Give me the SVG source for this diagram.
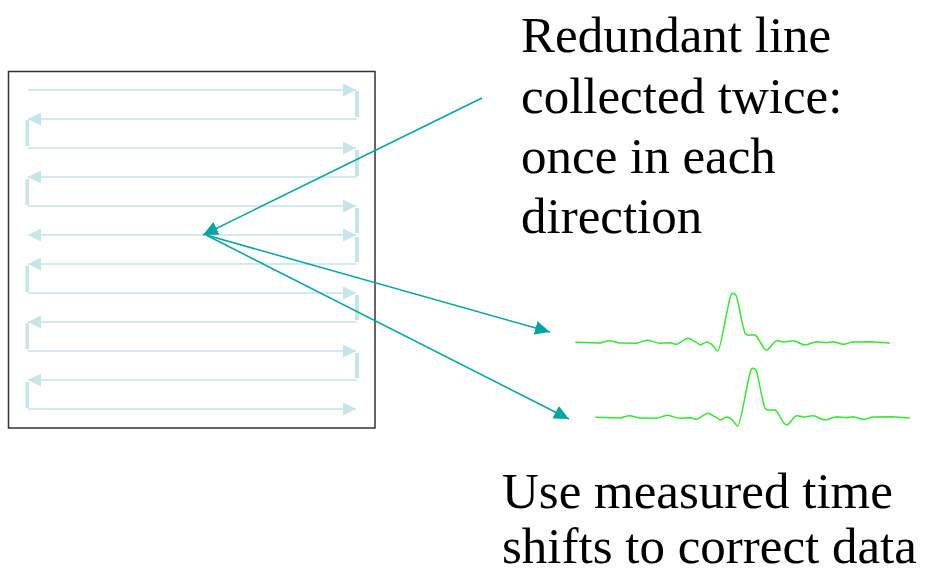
<svg xmlns="http://www.w3.org/2000/svg" width="927" height="573" viewBox="0 0 927 573">
<style>
.scan{stroke:#c6e5e9;stroke-width:1.6;fill:none}
.bar{fill:#c6e5e9}
.ptr{stroke:#00a6a6;stroke-width:1.5;fill:none}
.wave{stroke:#33e833;stroke-width:1.5;fill:none;stroke-linejoin:round;stroke-linecap:round}
.lbl{font-family:'Liberation Serif','Times New Roman',Times,serif;font-size:51px;fill:#000}
</style>
<defs>
<marker id="sa" markerUnits="userSpaceOnUse" markerWidth="14" markerHeight="13" refX="13" refY="6.5" orient="auto-start-reverse">
<path d="M0,0 L13,6.5 L0,13 z" fill="#c6e5e9"/>
</marker>
<marker id="ta" markerUnits="userSpaceOnUse" markerWidth="16" markerHeight="14" refX="15" refY="7" orient="auto">
<path d="M0,0 L15,7 L0,14 z" fill="#00a6a6"/>
</marker>
<path id="wf" d="M576,342.3 L600,343 C604,342 607,340.5 610,340.7 C614,341 617,343 620,343 L636.7,343.3 C641,342 645,340 648.3,340.3 C652,341 656,343.3 660,343.3 L670,342.7 C673,343 675,344.5 676.7,344.3 C681,343 685,338 688.3,338.3 C691,338.5 693,341.5 695,341.7 C697,342 699,345 700,345 C702,345 704.5,342 706.7,342 C709,342 710.5,343.5 711.7,344.3 C714,346 716,351 717.7,351 C720,351 724,326 726.7,313.3 C729,302 730.5,293.3 732.7,293.3 C735,293.3 736,295 736.7,296.7 C739,305 742,325 745,333.3 C747,336 749,335 750,335 L755,335 C757,336 758.5,339 760,341.7 C762,345 764,350 766.7,350 C770,350 773,341 776.7,340.7 C779,340.5 781,342 783.3,342 C786,342 790,340.5 793.3,340.7 C797,341 801,345 805,345 C809,345 813,341.7 816.7,341.7 L826.7,342.7 C829,342.5 831,341.7 833.3,341.7 C837,342 840,344.3 843.3,344.3 C847,344.3 850,342 853.3,342 L871.7,341.7 L889.3,343"/>
</defs>
<rect id="frame" x="8.5" y="71.5" width="366.5" height="356.5" fill="#fff" stroke="#333" stroke-width="1.5"/>
<g id="scanlines">
<line class="scan" x1="28" y1="90" x2="356" y2="90" marker-end="url(#sa)"/>
<line class="scan" x1="357" y1="119" x2="28" y2="119" marker-end="url(#sa)"/>
<line class="scan" x1="28" y1="148" x2="356" y2="148" marker-end="url(#sa)"/>
<line class="scan" x1="357" y1="177" x2="28" y2="177" marker-end="url(#sa)"/>
<line class="scan" x1="28" y1="206" x2="356" y2="206" marker-end="url(#sa)"/>
<line class="scan" x1="28" y1="235" x2="356" y2="235" marker-start="url(#sa)" marker-end="url(#sa)"/>
<line class="scan" x1="357" y1="264" x2="28" y2="264" marker-end="url(#sa)"/>
<line class="scan" x1="28" y1="293" x2="356" y2="293" marker-end="url(#sa)"/>
<line class="scan" x1="357" y1="322" x2="28" y2="322" marker-end="url(#sa)"/>
<line class="scan" x1="28" y1="351" x2="356" y2="351" marker-end="url(#sa)"/>
<line class="scan" x1="357" y1="380" x2="28" y2="380" marker-end="url(#sa)"/>
<line class="scan" x1="28" y1="409" x2="356" y2="409" marker-end="url(#sa)"/>
<rect class="bar" x="355" y="91" width="4" height="26"/>
<rect class="bar" x="25.5" y="120" width="3.5" height="26"/>
<rect class="bar" x="355" y="150" width="4" height="26"/>
<rect class="bar" x="25.5" y="179" width="3.5" height="26"/>
<rect class="bar" x="355" y="208" width="4" height="25"/>
<rect class="bar" x="355" y="237" width="4" height="25"/>
<rect class="bar" x="25.5" y="266" width="3.5" height="26"/>
<rect class="bar" x="355" y="295" width="4" height="25"/>
<rect class="bar" x="25.5" y="323" width="3.5" height="26"/>
<rect class="bar" x="355" y="353" width="4" height="25"/>
<rect class="bar" x="25.5" y="382" width="3.5" height="26"/>
</g>
<g id="waveforms">
<use href="#wf" class="wave"/>
<use href="#wf" class="wave" transform="translate(20,75)"/>
</g>
<g id="connectors">
<line class="ptr" x1="482" y1="98" x2="203" y2="235" marker-end="url(#ta)"/>
<line class="ptr" x1="206" y1="235" x2="550" y2="332" marker-end="url(#ta)"/>
<line class="ptr" x1="206" y1="235" x2="569" y2="419" marker-end="url(#ta)"/>
</g>
<g id="label-top">
<text class="lbl" font-family="Liberation Serif, serif" x="521" y="52">Redundant line</text>
<text class="lbl" font-family="Liberation Serif, serif" x="521" y="113">collected twice:</text>
<text class="lbl" font-family="Liberation Serif, serif" x="521" y="173">once in each</text>
<text class="lbl" font-family="Liberation Serif, serif" x="521" y="233">direction</text>
</g>
<g id="label-bottom">
<text class="lbl" font-family="Liberation Serif, serif" x="502" y="508">Use measured time</text>
<text class="lbl" font-family="Liberation Serif, serif" x="502" y="563">shifts to correct data</text>
</g>
</svg>
